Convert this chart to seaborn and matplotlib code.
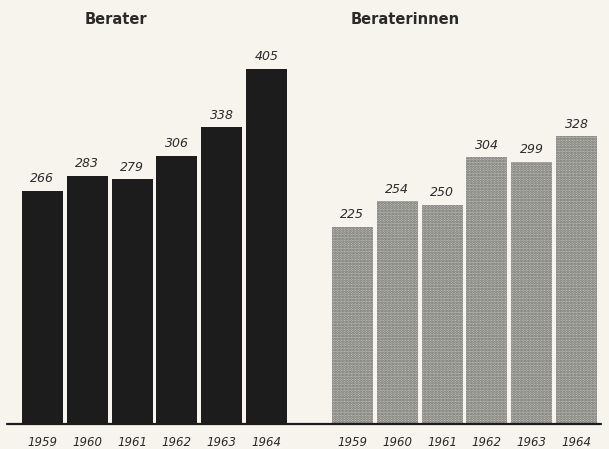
import matplotlib
matplotlib.use("Agg")
import matplotlib.pyplot as plt
import seaborn as sns
import pandas as pd

years = ["1959", "1960", "1961", "1962", "1963", "1964"]
berater = [266, 283, 279, 306, 338, 405]
beraterinnen = [225, 254, 250, 304, 299, 328]
titles = ["Berater", "Beraterinnen"]

sns.set_theme(style="white")
plt.rcParams["font.family"] = ["DejaVu Sans"]
plt.rcParams["hatch.linewidth"] = 1.4

paper = "#f6f4ec"
W, H = 609, 449
fig = plt.figure(figsize=(W / 100, H / 100), dpi=100, facecolor=paper)

base_y = 424
top_y = 38
ymax = 440

def ax_rect(x0, x1):
    return [x0 / W, (H - base_y) / H, (x1 - x0) / W, (base_y - top_y) / H]

panels = [
    (ax_rect(20, 289), berater, dict(color="#1c1c1c"), 116),
    (ax_rect(330, 599), beraterinnen,
     dict(color="#c4c4bf", hatch="......", edgecolor="#6c6c68"), 405),
]

for (rect, vals, style, title_x), title in zip(panels, titles):
    ax = fig.add_axes(rect)
    ax.set_facecolor(paper)
    df = pd.DataFrame({"Jahr": years, "Anzahl": vals})
    sns.barplot(data=df, x="Jahr", y="Anzahl", ax=ax, width=0.915,
                linewidth=0, saturation=1, **style)
    ax.set_xlim(-0.5, 5.5)
    ax.set_ylim(0, ymax)
    for p, v in zip(ax.patches, vals):
        ax.annotate(str(v), (p.get_x() + p.get_width() / 2, v),
                    xytext=(0, 4), textcoords="offset points",
                    ha="center", va="bottom", fontsize=9, style="italic",
                    color="#2a2a2a")
    ax.set_xlabel("")
    ax.set_ylabel("")
    ax.set_yticks([])
    ax.tick_params(axis="x", length=0, pad=9)
    for lab in ax.get_xticklabels():
        lab.set_fontstyle("italic")
        lab.set_fontsize(8.5)
        lab.set_color("#2a2a2a")
    for s in ax.spines.values():
        s.set_visible(False)
    fig.text(title_x / W, 1 - 19 / H, title, ha="center", va="center",
             fontsize=10.5, fontweight="bold", color="#2a2a2a")

# common baseline under both groups
fig.add_artist(plt.Line2D([7 / W, 601 / W], [(H - base_y) / H] * 2,
                          color="#1c1c1c", linewidth=1.6))

fig.savefig("out.png", dpi=100, facecolor=paper)
